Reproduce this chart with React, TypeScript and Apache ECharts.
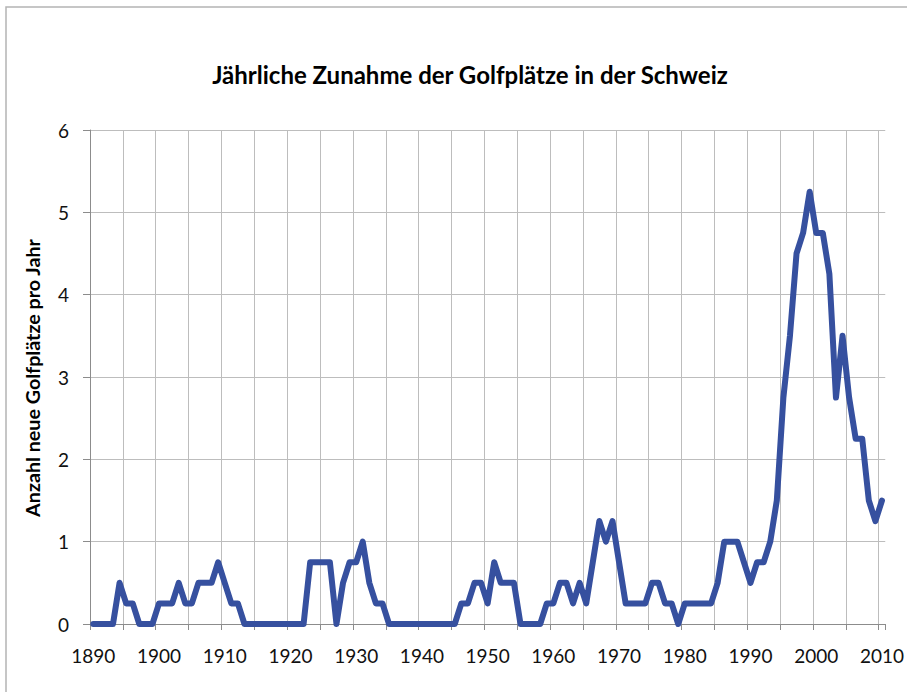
import React, { useEffect, useRef } from "react";
import * as echarts from "echarts";

const years: string[] = [];
for (let y = 1890; y <= 2010; y++) years.push(String(y));

// Neue Golfplätze pro Jahr, 1890–2010
const values1890s = [0, 0, 0, 0, 0.5, 0.25, 0.25, 0, 0, 0];
const values1900s = [0.25, 0.25, 0.25, 0.5, 0.25, 0.25, 0.5, 0.5, 0.5, 0.75];
const values1910s = [0.5, 0.25, 0.25, 0, 0, 0, 0, 0, 0, 0];
const values1920s = [0, 0, 0, 0.75, 0.75, 0.75, 0.75, 0, 0.5, 0.75];
const values1930s = [0.75, 1, 0.5, 0.25, 0.25, 0, 0, 0, 0, 0];
const values1940s = [0, 0, 0, 0, 0, 0, 0.25, 0.25, 0.5, 0.5];
const values1950s = [0.25, 0.75, 0.5, 0.5, 0.5, 0, 0, 0, 0, 0.25];
const values1960s = [0.25, 0.5, 0.5, 0.25, 0.5, 0.25, 0.75, 1.25, 1, 1.25];
const values1970s = [0.75, 0.25, 0.25, 0.25, 0.25, 0.5, 0.5, 0.25, 0.25, 0];
const values1980s = [0.25, 0.25, 0.25, 0.25, 0.25, 0.5, 1, 1, 1, 0.75];
const values1990s = [0.5, 0.75, 0.75, 1, 1.5, 2.75, 3.5, 4.5, 4.75, 5.25];
const values2000s = [4.75, 4.75, 4.25, 2.75, 3.5, 2.75, 2.25, 2.25, 1.5, 1.25, 1.5];

const values = [
  ...values1890s, ...values1900s, ...values1910s, ...values1920s, ...values1930s,
  ...values1940s, ...values1950s, ...values1960s, ...values1970s, ...values1980s,
  ...values1990s, ...values2000s,
];

const title = "Jährliche Zunahme der Golfplätze in der Schweiz";
const yAxisTitle = "Anzahl neue Golfplätze pro Jahr";

const FONT = "Lato, 'Open Sans', sans-serif";

export default function App() {
  const ref = useRef<HTMLDivElement>(null);
  useEffect(() => {
    document.body.style.margin = "0";
    const chart = echarts.init(ref.current!, undefined, { renderer: "svg" });
    chart.setOption({
      animation: false,
      backgroundColor: "#ffffff",
      graphic: [
        {
          type: "rect",
          shape: { x: 6, y: 7, width: 960, height: 760 },
          style: { fill: "none", stroke: "#b4b4b4", lineWidth: 1.5 },
          silent: true,
        },
        {
          type: "text",
          x: 470,
          y: 74,
          style: {
            text: title,
            font: `bold 24px ${FONT}`,
            fill: "#000000",
            align: "center",
            verticalAlign: "middle",
          },
        },
        {
          type: "text",
          x: 32,
          y: 378,
          rotation: Math.PI / 2,
          style: {
            text: yAxisTitle,
            font: `bold 19.7px ${FONT}`,
            fill: "#000000",
            align: "center",
            verticalAlign: "middle",
          },
        },
      ],
      grid: { left: 90, right: 20, top: 130, bottom: 68, containLabel: false },
      xAxis: {
        type: "category",
        data: years,
        boundaryGap: true,
        axisLine: { show: true, lineStyle: { color: "#8c8c8c", width: 1 } },
        axisTick: {
          show: true,
          interval: 4,
          length: 6,
          lineStyle: { color: "#8c8c8c" },
        },
        axisLabel: {
          interval: 9,
          margin: 22,
          color: "#111111",
          fontFamily: FONT,
          fontSize: 19,
        },
        splitLine: {
          show: true,
          interval: 4,
          showMaxLine: false,
          lineStyle: { color: "#bdbdbd", width: 1 },
        },
      },
      yAxis: {
        type: "value",
        min: 0,
        max: 6,
        interval: 1,
        axisLine: { show: true, lineStyle: { color: "#8c8c8c", width: 1 } },
        axisTick: { show: true, length: 7, inside: false, lineStyle: { color: "#8c8c8c" } },
        axisLabel: {
          margin: 21,
          color: "#111111",
          fontFamily: FONT,
          fontSize: 19,
        },
        splitLine: { show: true, lineStyle: { color: "#bdbdbd", width: 1 } },
      },
      series: [
        {
          type: "line",
          data: values,
          showSymbol: false,
          symbol: "none",
          lineStyle: { color: "#36509f", width: 6, cap: "round", join: "round" },
          clip: false,
        },
      ],
    });
    return () => chart.dispose();
  }, []);
  return (
    <div
      ref={ref}
      style={{ position: "absolute", left: 0, top: 0, width: 907, height: 692 }}
    />
  );
}
